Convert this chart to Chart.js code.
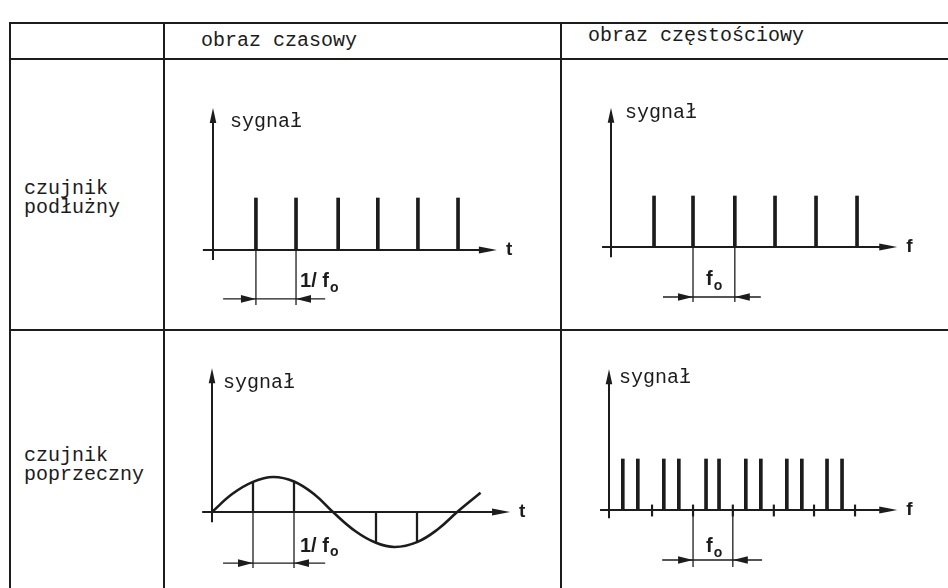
<!DOCTYPE html>
<html>
<head>
<meta charset="utf-8">
<title>czujnik podłużny / poprzeczny</title>
<script src="https://cdn.jsdelivr.net/npm/chart.js@4.4.1/dist/chart.umd.min.js"></script>
<style>
  html, body { margin: 0; padding: 0; background: #fff; }
  #page { position: relative; width: 948px; height: 588px; overflow: hidden; background: #fff; }
  .rule { position: absolute; background: #1c1c1c; }
  .txt { position: absolute; font-family: 'Liberation Mono', 'DejaVu Sans Mono', monospace;
         font-size: 20px; line-height: 20px; color: #1c1c1c; white-space: pre; }
  canvas { position: absolute; }
</style>
</head>
<body>
<div id="page">
  <!-- table rules -->
  <div class="rule" style="left:10px;top:22px;width:938px;height:2px"></div>
  <div class="rule" style="left:10px;top:58px;width:938px;height:2px"></div>
  <div class="rule" style="left:10px;top:329px;width:938px;height:2px"></div>
  <div class="rule" style="left:9px;top:22px;width:2px;height:566px"></div>
  <div class="rule" style="left:163px;top:22px;width:2px;height:566px"></div>
  <div class="rule" style="left:560px;top:22px;width:2px;height:566px"></div>

  <canvas id="p1" width="395" height="268" style="left:165px;top:61px"></canvas>
  <canvas id="p2" width="386" height="268" style="left:562px;top:61px"></canvas>
  <canvas id="p3" width="395" height="257" style="left:165px;top:331px"></canvas>
  <canvas id="p4" width="386" height="257" style="left:562px;top:331px"></canvas>
</div>

<script>
// ---- table texts ----
const columnHeaders = ['obraz czasowy', 'obraz częstościowy'];
const rowHeaders = ['czujnik\npodłużny', 'czujnik\npoprzeczny'];

// ---- czujnik podłużny: obraz czasowy (impulsy co 1/f0, t w jednostkach 1/f0) ----
const pulseTimes = [1.06, 2.05, 3.09, 4.07, 5.06, 6.05];
const pulseAmps  = [1, 1, 1, 1, 1, 1];

// ---- czujnik podłużny: obraz częstościowy (prążki co f0) ----
const lineFreqs = [1.06, 2.02, 3.05, 4.04, 5.05, 6.06];
const lineAmps  = [1, 1, 1, 1, 1, 1];

// ---- czujnik poprzeczny: obraz czasowy (przebieg i próbki co 1/f0) ----
const waveT = [0, 0.5, 1, 1.49, 2, 2.5, 2.95, 3.5, 4, 4.46, 5, 5.5, 5.98, 6.55];
const waveY = [0, 0.52, 0.86, 1, 0.87, 0.5, 0, -0.55, -0.88, -1, -0.86, -0.5, 0, 0.55];
const sampleT = [1, 2, 4, 5];
const sampleY = [0.86, 0.87, -0.88, -0.86];

// ---- czujnik poprzeczny: obraz częstościowy (pary prążków wokół k·f0) ----
const sideFreqs = [0.34, 0.71, 1.35, 1.72, 2.39, 2.71, 3.37, 3.74, 4.38, 4.75, 5.37, 5.74];
const sideAmps  = [1, 1, 1, 1, 1, 1, 1, 1, 1, 1, 1, 1];
const harmonicMarks = [1.06, 2.07, 3.05, 4.06, 5.05, 6.06];

const axisNames = { time: 't', freq: 'f', signal: 'sygnał' };
const spanLabels = { time: '1/ f', freq: 'f', sub: 'o' };

const INK = '#1c1c1c';
const MONO = '"Liberation Mono", "DejaVu Sans Mono", monospace';
const SANS = '"Liberation Sans", Arial, sans-serif';
const page = document.getElementById('page');

function addText(str, left, top) {
  const d = document.createElement('div');
  d.className = 'txt';
  d.textContent = str;
  d.style.left = left + 'px';
  d.style.top = top + 'px';
  page.appendChild(d);
}
addText(columnHeaders[0], 201, 31);
addText(columnHeaders[1], 588, 26);
rowHeaders.forEach((s, i) => {
  const [a, b] = s.split('\n');
  const top = i === 0 ? 179 : 446;
  addText(a, 24, top);
  addText(b, 24, top + 19);
});

// ---- drawing helpers ----
function seg(ctx, x1, y1, x2, y2) {
  ctx.beginPath(); ctx.moveTo(x1, y1); ctx.lineTo(x2, y2); ctx.stroke();
}
function head(ctx, x, y, dir, len, half) {
  ctx.beginPath();
  if (dir === 'right') { ctx.moveTo(x, y); ctx.lineTo(x - len, y - half); ctx.lineTo(x - len, y + half); }
  if (dir === 'left')  { ctx.moveTo(x, y); ctx.lineTo(x + len, y - half); ctx.lineTo(x + len, y + half); }
  if (dir === 'up')    { ctx.moveTo(x, y); ctx.lineTo(x - half, y + len); ctx.lineTo(x + half, y + len); }
  ctx.closePath(); ctx.fill();
}

// axes with arrowheads, axis names and the period / spacing dimension
const schematic = {
  id: 'schematic',
  afterDatasetsDraw(chart, args, o) {
    const { ctx, scales: { x, y } } = chart;
    const X = v => x.getPixelForValue(v), Y = v => y.getPixelForValue(v);
    ctx.save();
    ctx.strokeStyle = INK; ctx.fillStyle = INK;

    // axes
    ctx.lineWidth = 2;
    seg(ctx, X(o.xAxis[0]), Y(0), X(o.xAxis[1]) - 12, Y(0));
    head(ctx, X(o.xAxis[1]), Y(0), 'right', 18, 3.6);
    seg(ctx, X(0), Y(o.yAxis[0]), X(0), Y(o.yAxis[1]) + 10);
    head(ctx, X(0), Y(o.yAxis[1]), 'up', 15, 3.3);

    ctx.textBaseline = 'middle'; ctx.textAlign = 'left';
    ctx.font = 'bold 19px ' + SANS;
    ctx.fillText(o.xName, X(o.xAxis[1]) + 9, Y(0));
    ctx.font = '20px ' + MONO;
    ctx.fillText(axisNames.signal, X(0) + o.nameDx, Y(o.yAxis[1]) + o.nameDy);

    // dimension
    const d = o.dim;
    ctx.lineWidth = 1.3;
    seg(ctx, X(d.a), Y(0), X(d.a), Y(d.ext));
    seg(ctx, X(d.b), Y(0), X(d.b), Y(d.ext));
    seg(ctx, X(d.from), Y(d.at), X(d.to), Y(d.at));
    head(ctx, X(d.a), Y(d.at), 'right', 15, 3.8);
    head(ctx, X(d.b), Y(d.at), 'left', 15, 3.8);

    ctx.font = 'bold 20px ' + SANS;
    const lx = X(d.labelAnchor) + d.labelDx, ly = Y(d.at) + d.labelDy;
    ctx.fillText(d.label, lx, ly);
    const w = ctx.measureText(d.label).width;
    ctx.font = 'bold 14px ' + SANS;
    ctx.fillText(spanLabels.sub, lx + w + 1, ly + 6);
    ctx.restore();
  }
};

function scaleRange(box, origin, ux, uy) {
  // box: [left, top, width, height] of the canvas on the page; origin in page pixels
  return {
    x: { type: 'linear', display: false, offset: false,
         min: (box[0] - origin[0]) / ux, max: (box[0] + box[2] - origin[0]) / ux },
    y: { type: 'linear', display: false, offset: false,
         min: (origin[1] - (box[1] + box[3])) / uy, max: (origin[1] - box[1]) / uy }
  };
}

function stems(xs, ys) { return xs.map((v, i) => ({ x: v, y: ys[i] })); }
function floating(xs, lo, hi) { return xs.map((v, i) => ({ x: v, y: [lo[i], hi[i]] })); }

function makeChart(id, box, origin, ux, uy, datasets, opts) {
  return new Chart(document.getElementById(id), {
    type: 'bar',
    data: { datasets },
    options: {
      responsive: false, animation: false, devicePixelRatio: 1,
      layout: { padding: 0 },
      scales: scaleRange(box, origin, ux, uy),
      plugins: { legend: { display: false }, tooltip: { enabled: false }, schematic: opts }
    },
    plugins: [schematic]
  });
}

const barStyle = { backgroundColor: INK, borderWidth: 0, grouped: false };

// czujnik podłużny – obraz czasowy
makeChart('p1', [165, 61, 395, 268], [213, 250], 40.5, 52,
  [{ ...barStyle, data: stems(pulseTimes, pulseAmps), barThickness: 3 }],
  { xAxis: [-0.25, 7.01], yAxis: [-0.19, 2.73], xName: axisNames.time, nameDx: 17, nameDy: 14,
    dim: { a: pulseTimes[0], b: pulseTimes[1], ext: -1.06, at: -0.94, from: 0.25, to: 2.77,
           label: spanLabels.time, labelAnchor: pulseTimes[1], labelDx: 4, labelDy: -17 } });

// czujnik podłużny – obraz częstościowy
makeChart('p2', [562, 61, 386, 268], [611, 247], 40.6, 51,
  [{ ...barStyle, data: stems(lineFreqs, lineAmps), barThickness: 3 }],
  { xAxis: [-0.22, 7.05], yAxis: [-0.2, 2.73], xName: axisNames.freq, nameDx: 14, nameDy: 5,
    dim: { a: lineFreqs[1], b: lineFreqs[2], ext: -1.08, at: -0.98, from: 1.28, to: 3.69,
           label: spanLabels.freq, labelAnchor: lineFreqs[1], labelDx: 13, labelDy: -17 } });

// czujnik poprzeczny – obraz czasowy
makeChart('p3', [165, 331, 395, 257], [212, 512], 41, 35,
  [{ ...barStyle, data: floating(sampleT, sampleT.map(() => 0), sampleY), barThickness: 1.6 },
   { type: 'line', data: stems(waveT, waveY), borderColor: INK, borderWidth: 2.6,
     pointRadius: 0, tension: 0.4, fill: false }],
  { xAxis: [-0.24, 7.27], yAxis: [-0.29, 4.11], xName: axisNames.time, nameDx: 11, nameDy: 15,
    dim: { a: sampleT[0], b: sampleT[1], ext: -1.6, at: -1.46, from: 0.27, to: 2.76,
           label: spanLabels.time, labelAnchor: sampleT[1], labelDx: 6, labelDy: -17 } });

// czujnik poprzeczny – obraz częstościowy
makeChart('p4', [562, 331, 386, 257], [609, 510], 40.6, 51,
  [{ ...barStyle, data: stems(sideFreqs, sideAmps), barThickness: 3 },
   { ...barStyle, data: floating(harmonicMarks, harmonicMarks.map(() => -0.12), harmonicMarks.map(() => 0.1)),
     barThickness: 1.5 }],
  { xAxis: [-0.22, 7.1], yAxis: [-0.16, 2.76], xName: axisNames.freq, nameDx: 10, nameDy: 8,
    dim: { a: harmonicMarks[1], b: harmonicMarks[2], ext: -1.12, at: -0.98, from: 1.31, to: 3.77,
           label: spanLabels.freq, labelAnchor: harmonicMarks[1], labelDx: 13, labelDy: -13 } });
</script>
</body>
</html>
